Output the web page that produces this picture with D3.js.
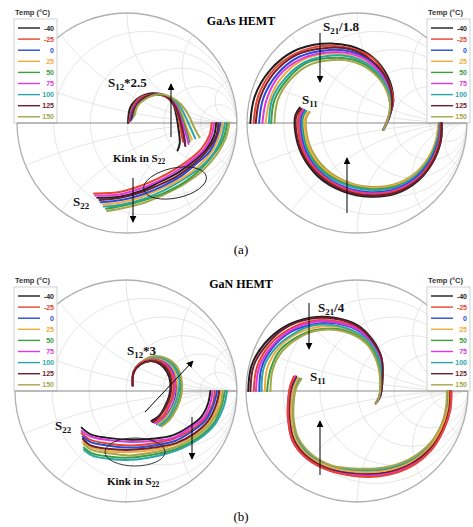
<!DOCTYPE html>
<html>
<head>
<meta charset="utf-8">
<script src="https://cdn.jsdelivr.net/npm/d3@7"></script>
<style>
  body { margin: 0; background: #fff; }
  svg { display: block; }
</style>
</head>
<body>
<svg id="chart" width="473" height="527"></svg>
<script>
// Temperatures (°C) and the colour used for each trace
const temps = ["-40", "-25", "0", "25", "50", "75", "100", "125", "150"];
const tempColors = ["#1e1e1e", "#e8432e", "#2a4ad6", "#f1ab3c", "#3c9d42", "#e036e0", "#2aa6a8", "#6d1e2f", "#a5a64a"];

// Reflection-plane traces [Re, Im], one array per temperature (same order as temps)
// GaAs HEMT, S22
const gaasS22 = [
  [[0.81,0],[0.79,-0.12],[0.72,-0.24],[0.60,-0.35],[0.45,-0.46],[0.29,-0.54],[0.12,-0.62],[-0.07,-0.67],[-0.27,-0.68]],
  [[0.77,0],[0.75,-0.11],[0.68,-0.23],[0.57,-0.33],[0.42,-0.43],[0.27,-0.51],[0.10,-0.58],[-0.08,-0.63],[-0.30,-0.64]],
  [[0.85,0],[0.82,-0.12],[0.75,-0.26],[0.63,-0.37],[0.48,-0.49],[0.31,-0.58],[0.14,-0.65],[-0.05,-0.70],[-0.24,-0.72]],
  [[0.87,0],[0.84,-0.12],[0.77,-0.26],[0.65,-0.39],[0.49,-0.51],[0.33,-0.59],[0.14,-0.67],[-0.04,-0.72],[-0.22,-0.74]],
  [[0.91,0],[0.88,-0.13],[0.80,-0.27],[0.68,-0.41],[0.52,-0.54],[0.35,-0.63],[0.16,-0.70],[-0.03,-0.75],[-0.19,-0.78]],
  [[0.79,0],[0.77,-0.11],[0.70,-0.24],[0.59,-0.34],[0.43,-0.45],[0.28,-0.53],[0.11,-0.60],[-0.07,-0.65],[-0.29,-0.66]],
  [[0.89,0],[0.86,-0.13],[0.79,-0.27],[0.67,-0.40],[0.50,-0.52],[0.34,-0.61],[0.15,-0.69],[-0.04,-0.74],[-0.21,-0.76]],
  [[0.83,0],[0.81,-0.12],[0.73,-0.25],[0.62,-0.36],[0.46,-0.48],[0.30,-0.56],[0.13,-0.63],[-0.06,-0.68],[-0.25,-0.70]],
  [[0.93,0],[0.90,-0.13],[0.82,-0.28],[0.70,-0.42],[0.53,-0.55],[0.36,-0.64],[0.17,-0.72],[-0.02,-0.77],[-0.18,-0.80]]
];

// GaAs HEMT, S12 x 2.5
const gaasS12 = [
  [[0.01,0],[0.03,0.14],[0.11,0.23],[0.23,0.27],[0.34,0.25],[0.42,0.17],[0.45,0.06],[0.47,-0.07],[0.48,-0.18],[0.46,-0.25]],
  [[0.02,0.01],[0.05,0.14],[0.12,0.23],[0.24,0.26],[0.35,0.24],[0.43,0.16],[0.47,0.05],[0.49,-0.07],[0.51,-0.17]],
  [[0.03,0.02],[0.06,0.14],[0.13,0.22],[0.25,0.26],[0.36,0.24],[0.44,0.16],[0.48,0.05],[0.51,-0.07],[0.53,-0.18]],
  [[0.05,0.05],[0.08,0.15],[0.15,0.22],[0.26,0.26],[0.37,0.24],[0.46,0.16],[0.51,0.05],[0.55,-0.06],[0.59,-0.15]],
  [[0.05,0.05],[0.08,0.15],[0.15,0.22],[0.26,0.26],[0.37,0.24],[0.45,0.16],[0.50,0.05],[0.54,-0.07],[0.57,-0.17]],
  [[0.04,0.04],[0.07,0.15],[0.14,0.22],[0.25,0.26],[0.36,0.24],[0.45,0.15],[0.49,0.04],[0.53,-0.08],[0.56,-0.19]],
  [[0.06,0.06],[0.09,0.16],[0.16,0.22],[0.27,0.26],[0.38,0.24],[0.47,0.17],[0.53,0.06],[0.58,-0.05],[0.62,-0.14]],
  [[0.04,0.03],[0.07,0.14],[0.14,0.22],[0.25,0.26],[0.36,0.24],[0.44,0.15],[0.48,0.04],[0.51,-0.09],[0.53,-0.21]],
  [[0.07,0.07],[0.10,0.16],[0.17,0.22],[0.28,0.26],[0.39,0.24],[0.49,0.17],[0.56,0.07],[0.61,-0.04],[0.66,-0.13]]
];

// GaAs HEMT, S21 / 1.8
const gaasS21 = [
  [[-0.97,0],[-0.93,0.24],[-0.79,0.48],[-0.58,0.65],[-0.32,0.72],[-0.06,0.70],[0.14,0.60],[0.28,0.42],[0.33,0.21],[0.29,0.05],[0.24,-0.06]],
  [[-0.94,0],[-0.90,0.24],[-0.77,0.47],[-0.56,0.63],[-0.31,0.70],[-0.06,0.68],[0.14,0.59],[0.27,0.41],[0.33,0.21],[0.29,0.05],[0.24,-0.06]],
  [[-0.89,0],[-0.85,0.23],[-0.72,0.45],[-0.53,0.60],[-0.29,0.66],[-0.06,0.65],[0.13,0.56],[0.26,0.39],[0.32,0.20],[0.29,0.04],[0.24,-0.06]],
  [[-0.83,0],[-0.79,0.22],[-0.68,0.42],[-0.50,0.57],[-0.28,0.63],[-0.05,0.61],[0.13,0.52],[0.25,0.38],[0.31,0.19],[0.28,0.04],[0.24,-0.06]],
  [[-0.78,0],[-0.75,0.21],[-0.63,0.40],[-0.47,0.54],[-0.26,0.59],[-0.05,0.58],[0.12,0.50],[0.24,0.36],[0.30,0.18],[0.28,0.03],[0.24,-0.06]],
  [[-0.86,0],[-0.82,0.22],[-0.70,0.44],[-0.51,0.58],[-0.28,0.64],[-0.05,0.63],[0.13,0.54],[0.26,0.38],[0.32,0.20],[0.28,0.04],[0.24,-0.06]],
  [[-0.80,0],[-0.77,0.22],[-0.65,0.41],[-0.48,0.55],[-0.27,0.61],[-0.05,0.60],[0.13,0.51],[0.25,0.37],[0.31,0.19],[0.28,0.03],[0.24,-0.06]],
  [[-0.92,0],[-0.88,0.23],[-0.75,0.46],[-0.55,0.62],[-0.30,0.68],[-0.06,0.67],[0.13,0.57],[0.27,0.40],[0.32,0.20],[0.29,0.05],[0.24,-0.06]],
  [[-0.75,0],[-0.72,0.21],[-0.61,0.39],[-0.45,0.52],[-0.25,0.57],[-0.05,0.56],[0.12,0.48],[0.24,0.35],[0.30,0.18],[0.28,0.03],[0.24,-0.06]]
];

// GaAs HEMT, S11
const gaasS11 = [
  [[0.77,0],[0.76,-0.17],[0.68,-0.37],[0.55,-0.53],[0.36,-0.64],[0.12,-0.67],[-0.13,-0.62],[-0.35,-0.49],[-0.50,-0.29],[-0.56,-0.09],[-0.56,0.07],[-0.52,0.14]],
  [[0.76,0],[0.75,-0.16],[0.67,-0.36],[0.54,-0.52],[0.35,-0.62],[0.12,-0.65],[-0.12,-0.60],[-0.33,-0.47],[-0.48,-0.28],[-0.53,-0.09],[-0.53,0.07],[-0.50,0.13]],
  [[0.76,0],[0.74,-0.16],[0.66,-0.35],[0.53,-0.50],[0.35,-0.60],[0.12,-0.63],[-0.12,-0.58],[-0.32,-0.46],[-0.46,-0.27],[-0.51,-0.09],[-0.51,0.06],[-0.48,0.12]],
  [[0.74,0],[0.72,-0.15],[0.64,-0.34],[0.51,-0.48],[0.33,-0.57],[0.11,-0.59],[-0.10,-0.54],[-0.29,-0.43],[-0.42,-0.26],[-0.47,-0.08],[-0.47,0.05],[-0.44,0.10]],
  [[0.75,0],[0.73,-0.15],[0.65,-0.34],[0.52,-0.49],[0.34,-0.58],[0.11,-0.60],[-0.11,-0.55],[-0.30,-0.44],[-0.44,-0.26],[-0.49,-0.08],[-0.49,0.06],[-0.46,0.11]],
  [[0.76,0],[0.75,-0.16],[0.67,-0.36],[0.54,-0.51],[0.35,-0.61],[0.12,-0.64],[-0.12,-0.59],[-0.32,-0.47],[-0.47,-0.28],[-0.52,-0.09],[-0.52,0.06],[-0.49,0.12]],
  [[0.75,0],[0.73,-0.16],[0.65,-0.35],[0.52,-0.49],[0.34,-0.59],[0.11,-0.61],[-0.11,-0.56],[-0.31,-0.45],[-0.45,-0.27],[-0.50,-0.08],[-0.50,0.06],[-0.47,0.11]],
  [[0.77,0],[0.76,-0.17],[0.68,-0.37],[0.55,-0.52],[0.36,-0.63],[0.12,-0.66],[-0.13,-0.61],[-0.34,-0.48],[-0.49,-0.29],[-0.55,-0.09],[-0.55,0.07],[-0.51,0.13]],
  [[0.74,0],[0.72,-0.15],[0.64,-0.33],[0.51,-0.47],[0.33,-0.56],[0.11,-0.58],[-0.10,-0.53],[-0.28,-0.42],[-0.41,-0.25],[-0.46,-0.08],[-0.46,0.05],[-0.43,0.10]]
];

// GaN HEMT, S22
const ganS22 = [
  [[0.76,0],[0.74,-0.11],[0.68,-0.23],[0.57,-0.32],[0.42,-0.40],[0.24,-0.43],[0.04,-0.44],[-0.18,-0.42],[-0.32,-0.39],[-0.40,-0.33]],
  [[0.80,0],[0.78,-0.12],[0.71,-0.25],[0.59,-0.35],[0.43,-0.43],[0.25,-0.47],[0.04,-0.49],[-0.18,-0.47],[-0.32,-0.44],[-0.40,-0.38]],
  [[0.82,0],[0.79,-0.12],[0.72,-0.26],[0.60,-0.36],[0.44,-0.45],[0.25,-0.49],[0.04,-0.51],[-0.17,-0.49],[-0.32,-0.46],[-0.39,-0.41]],
  [[0.85,0],[0.83,-0.13],[0.76,-0.27],[0.63,-0.39],[0.45,-0.48],[0.25,-0.53],[0.04,-0.55],[-0.17,-0.54],[-0.31,-0.51],[-0.39,-0.46]],
  [[0.89,0],[0.86,-0.14],[0.79,-0.29],[0.65,-0.42],[0.46,-0.52],[0.26,-0.57],[0.04,-0.60],[-0.16,-0.59],[-0.31,-0.56],[-0.38,-0.51]],
  [[0.78,0],[0.76,-0.11],[0.70,-0.24],[0.58,-0.33],[0.43,-0.42],[0.24,-0.45],[0.04,-0.46],[-0.18,-0.44],[-0.32,-0.41],[-0.40,-0.36]],
  [[0.91,0],[0.88,-0.14],[0.80,-0.30],[0.66,-0.43],[0.47,-0.53],[0.26,-0.59],[0.04,-0.62],[-0.16,-0.61],[-0.31,-0.58],[-0.38,-0.53]],
  [[0.84,0],[0.81,-0.13],[0.74,-0.27],[0.62,-0.38],[0.45,-0.47],[0.25,-0.51],[0.04,-0.53],[-0.17,-0.52],[-0.32,-0.49],[-0.39,-0.43]],
  [[0.87,0],[0.85,-0.13],[0.77,-0.28],[0.64,-0.40],[0.46,-0.50],[0.26,-0.55],[0.04,-0.58],[-0.16,-0.56],[-0.31,-0.53],[-0.38,-0.48]]
];

// GaN HEMT, S12 x 3
const ganS12 = [
  [[0.06,0.05],[0.07,0.17],[0.13,0.24],[0.22,0.27],[0.31,0.24],[0.37,0.17],[0.40,0.07],[0.39,-0.04],[0.35,-0.14],[0.30,-0.22],[0.23,-0.27]],
  [[0.06,0.05],[0.07,0.17],[0.13,0.25],[0.22,0.28],[0.32,0.26],[0.39,0.19],[0.43,0.08],[0.42,-0.04],[0.38,-0.14],[0.33,-0.23],[0.25,-0.28]],
  [[0.06,0.05],[0.07,0.17],[0.13,0.25],[0.23,0.29],[0.33,0.27],[0.41,0.20],[0.45,0.09],[0.45,-0.04],[0.41,-0.15],[0.35,-0.24],[0.28,-0.30]],
  [[0.06,0.05],[0.07,0.18],[0.14,0.25],[0.23,0.29],[0.34,0.28],[0.42,0.21],[0.46,0.10],[0.46,-0.04],[0.42,-0.15],[0.36,-0.24],[0.29,-0.30]],
  [[0.06,0.05],[0.07,0.18],[0.14,0.26],[0.23,0.30],[0.35,0.29],[0.44,0.22],[0.49,0.11],[0.49,-0.03],[0.45,-0.15],[0.39,-0.25],[0.31,-0.31]],
  [[0.06,0.05],[0.07,0.17],[0.13,0.25],[0.22,0.28],[0.33,0.26],[0.40,0.19],[0.44,0.09],[0.43,-0.04],[0.39,-0.14],[0.34,-0.23],[0.26,-0.29]],
  [[0.06,0.05],[0.07,0.18],[0.14,0.26],[0.23,0.30],[0.34,0.29],[0.43,0.22],[0.48,0.10],[0.47,-0.03],[0.43,-0.15],[0.38,-0.24],[0.30,-0.31]],
  [[0.06,0.05],[0.07,0.17],[0.13,0.24],[0.22,0.27],[0.31,0.25],[0.38,0.18],[0.41,0.08],[0.40,-0.04],[0.36,-0.14],[0.31,-0.22],[0.24,-0.28]],
  [[0.06,0.05],[0.07,0.18],[0.14,0.26],[0.23,0.31],[0.35,0.30],[0.45,0.23],[0.50,0.11],[0.50,-0.03],[0.46,-0.15],[0.40,-0.25],[0.32,-0.32]]
];

// GaN HEMT, S21 / 4
const ganS21 = [
  [[-0.98,0],[-0.95,0.23],[-0.83,0.43],[-0.65,0.58],[-0.42,0.66],[-0.20,0.66],[0.01,0.59],[0.14,0.46],[0.22,0.30],[0.23,0.12],[0.21,-0.04],[0.17,-0.11]],
  [[-0.93,0],[-0.90,0.22],[-0.79,0.41],[-0.62,0.55],[-0.41,0.63],[-0.20,0.63],[0.00,0.57],[0.13,0.45],[0.21,0.29],[0.22,0.11],[0.21,-0.04],[0.17,-0.11]],
  [[-0.88,0],[-0.86,0.21],[-0.76,0.39],[-0.60,0.53],[-0.40,0.60],[-0.20,0.61],[0.00,0.55],[0.12,0.44],[0.20,0.28],[0.22,0.11],[0.21,-0.05],[0.17,-0.11]],
  [[-0.83,0],[-0.81,0.20],[-0.72,0.37],[-0.57,0.50],[-0.39,0.57],[-0.19,0.58],[-0.01,0.52],[0.11,0.42],[0.19,0.27],[0.22,0.10],[0.20,-0.05],[0.17,-0.11]],
  [[-0.81,0],[-0.78,0.19],[-0.70,0.36],[-0.55,0.48],[-0.38,0.55],[-0.19,0.56],[-0.02,0.51],[0.11,0.41],[0.19,0.26],[0.21,0.10],[0.20,-0.05],[0.17,-0.11]],
  [[-0.91,0],[-0.88,0.22],[-0.77,0.40],[-0.61,0.54],[-0.40,0.62],[-0.20,0.62],[0.00,0.56],[0.13,0.44],[0.21,0.29],[0.22,0.11],[0.21,-0.04],[0.17,-0.11]],
  [[-0.86,0],[-0.84,0.21],[-0.74,0.38],[-0.58,0.51],[-0.40,0.59],[-0.19,0.59],[-0.01,0.53],[0.12,0.43],[0.20,0.28],[0.22,0.11],[0.20,-0.05],[0.17,-0.11]],
  [[-0.96,0],[-0.93,0.23],[-0.81,0.42],[-0.64,0.57],[-0.42,0.65],[-0.20,0.65],[0.01,0.58],[0.14,0.45],[0.22,0.30],[0.23,0.12],[0.21,-0.04],[0.17,-0.11]],
  [[-0.78,0],[-0.76,0.19],[-0.68,0.35],[-0.54,0.47],[-0.38,0.54],[-0.19,0.55],[-0.02,0.50],[0.10,0.41],[0.18,0.26],[0.21,0.10],[0.20,-0.05],[0.17,-0.11]]
];

// GaN HEMT, S11
const ganS11 = [
  [[0.84,0],[0.83,-0.17],[0.77,-0.35],[0.66,-0.52],[0.48,-0.66],[0.25,-0.73],[0.01,-0.75],[-0.24,-0.71],[-0.44,-0.60],[-0.57,-0.44],[-0.61,-0.26],[-0.61,-0.08],[-0.59,0.04],[-0.55,0.13]],
  [[0.85,0],[0.84,-0.17],[0.78,-0.35],[0.67,-0.53],[0.49,-0.68],[0.26,-0.76],[0.01,-0.77],[-0.24,-0.72],[-0.45,-0.61],[-0.58,-0.45],[-0.62,-0.26],[-0.62,-0.08],[-0.60,0.05],[-0.57,0.13]],
  [[0.83,0],[0.82,-0.16],[0.77,-0.34],[0.65,-0.51],[0.48,-0.65],[0.25,-0.72],[0.01,-0.74],[-0.23,-0.70],[-0.43,-0.59],[-0.56,-0.44],[-0.60,-0.26],[-0.60,-0.09],[-0.58,0.04],[-0.54,0.12]],
  [[0.83,0],[0.82,-0.16],[0.76,-0.34],[0.65,-0.51],[0.47,-0.65],[0.25,-0.72],[0.01,-0.73],[-0.23,-0.69],[-0.43,-0.59],[-0.55,-0.44],[-0.59,-0.26],[-0.59,-0.09],[-0.57,0.03],[-0.53,0.12]],
  [[0.82,0],[0.81,-0.16],[0.76,-0.34],[0.64,-0.51],[0.47,-0.64],[0.24,-0.71],[0.01,-0.72],[-0.23,-0.68],[-0.42,-0.58],[-0.54,-0.43],[-0.58,-0.26],[-0.58,-0.10],[-0.56,0.03],[-0.52,0.11]],
  [[0.85,0],[0.84,-0.17],[0.78,-0.35],[0.67,-0.53],[0.49,-0.67],[0.26,-0.75],[0.01,-0.76],[-0.24,-0.72],[-0.45,-0.61],[-0.58,-0.45],[-0.62,-0.26],[-0.62,-0.08],[-0.60,0.05],[-0.56,0.13]],
  [[0.82,0],[0.81,-0.16],[0.75,-0.33],[0.64,-0.50],[0.46,-0.63],[0.24,-0.70],[0.01,-0.71],[-0.23,-0.68],[-0.42,-0.58],[-0.54,-0.43],[-0.58,-0.26],[-0.58,-0.10],[-0.56,0.02],[-0.51,0.11]],
  [[0.84,0],[0.83,-0.17],[0.77,-0.35],[0.66,-0.52],[0.48,-0.66],[0.25,-0.74],[0.01,-0.75],[-0.24,-0.71],[-0.44,-0.60],[-0.57,-0.44],[-0.61,-0.26],[-0.61,-0.08],[-0.59,0.04],[-0.55,0.13]],
  [[0.81,0],[0.80,-0.16],[0.75,-0.33],[0.63,-0.50],[0.46,-0.62],[0.24,-0.69],[0.01,-0.70],[-0.23,-0.67],[-0.41,-0.57],[-0.53,-0.42],[-0.57,-0.26],[-0.57,-0.10],[-0.55,0.02],[-0.50,0.11]]
];

// Panel headings and captions
const deviceTitles = ["GaAs HEMT", "GaN HEMT"];
const captions = ["(a)", "(b)"];
const legendTitle = "Temp (°C)";

const svg = d3.select("#chart");
const serif = "'Liberation Serif', 'DejaVu Serif', serif";
const sans = "'Liberation Sans', Arial, sans-serif";

const defs = svg.append("defs");
defs.append("marker")
  .attr("id", "head")
  .attr("viewBox", "0 0 10 10")
  .attr("refX", 9).attr("refY", 5)
  .attr("markerWidth", 7).attr("markerHeight", 7)
  .attr("markerUnits", "userSpaceOnUse")
  .attr("orient", "auto")
  .append("path").attr("d", "M0,0 L10,5 L0,10 Z").attr("fill", "#000");

// Layout of the four Smith charts; `order` is the stacking order of the temperature traces
const tempOrder = [0, 1, 2, 3, 4, 5, 6, 7, 8];
const panels = [
  { id: "p0", cx: 127, cy: 123, R: 110, traces: [gaasS22, gaasS12],
    order: [[8, 4, 6, 3, 2, 0, 7, 5, 1], tempOrder], legend: { x: 14, y: 19 } },
  { id: "p1", cx: 357, cy: 123, R: 110, traces: [gaasS21, gaasS11],
    order: [tempOrder, [8, 3, 4, 6, 2, 5, 1, 0, 7]], legend: { x: 427, y: 19 } },
  { id: "p2", cx: 126, cy: 391, R: 111, traces: [ganS22, ganS12],
    order: [tempOrder, [0, 2, 3, 4, 6, 8, 5, 1, 7]], legend: { x: 14, y: 287 } },
  { id: "p3", cx: 357, cy: 391, R: 111, traces: [ganS21, ganS11],
    order: [tempOrder, [4, 6, 8, 0, 2, 3, 7, 5, 1]], legend: { x: 427, y: 287 } }
];

const rCircles = [0.2, 0.5, 1, 2, 5];
const xArcs = [0.2, 0.5, 1, 2, 5];

panels.forEach(p => {
  const sx = d3.scaleLinear().domain([-1, 1]).range([p.cx - p.R, p.cx + p.R]);
  const sy = d3.scaleLinear().domain([-1, 1]).range([p.cy + p.R, p.cy - p.R]);
  const k = p.R; // pixels per unit of |Γ|

  defs.append("clipPath").attr("id", "clip-" + p.id)
    .append("circle").attr("cx", sx(0)).attr("cy", sy(0)).attr("r", k);

  const g = svg.append("g");
  const grid = g.append("g").attr("clip-path", `url(#clip-${p.id})`)
    .attr("fill", "none").attr("stroke", "#e0e0e0").attr("stroke-width", 0.8);

  // constant-resistance circles
  rCircles.forEach(r => {
    grid.append("circle")
      .attr("cx", sx(r / (1 + r))).attr("cy", sy(0)).attr("r", k / (1 + r));
  });
  // constant-reactance arcs
  xArcs.forEach(x => {
    [1, -1].forEach(s => {
      grid.append("circle")
        .attr("cx", sx(1)).attr("cy", sy(s / x)).attr("r", k / x);
    });
  });

  // outer boundary |Γ| = 1
  g.append("circle").attr("cx", sx(0)).attr("cy", sy(0)).attr("r", k)
    .attr("fill", "none").attr("stroke", "#b0b0b0").attr("stroke-width", 1.3);

  // legend box (covers the grid beneath it)
  const L = p.legend;
  const lg = g.append("g");
  lg.append("rect").attr("x", L.x).attr("y", L.y).attr("width", 43).attr("height", sy(0) - L.y)
    .attr("fill", "#fff").attr("stroke", "#bdbdbd").attr("stroke-width", 0.7);
  lg.append("text").attr("x", L.x + 1).attr("y", L.y - 4)
    .attr("font-family", sans).attr("font-size", 7.5).attr("font-weight", "bold").attr("fill", "#333")
    .text(legendTitle);
  temps.forEach((t, i) => {
    const yy = L.y + 9 + i * 11.1;
    lg.append("line").attr("x1", L.x + 4).attr("x2", L.x + 26).attr("y1", yy).attr("y2", yy)
      .attr("stroke", tempColors[i]).attr("stroke-width", 1.4);
    lg.append("text").attr("x", L.x + 40).attr("y", yy + 2.5).attr("text-anchor", "end")
      .attr("font-family", sans).attr("font-size", 7).attr("font-weight", "bold")
      .attr("fill", tempColors[i]).text(t);
  });

  // real axis
  g.append("line").attr("x1", sx(-1)).attr("x2", sx(1)).attr("y1", sy(0)).attr("y2", sy(0))
    .attr("stroke", "#8a8a8a").attr("stroke-width", 1.2);

  // S-parameter traces
  const line = d3.line().x(d => sx(d[0])).y(d => sy(d[1])).curve(d3.curveCatmullRom.alpha(0.5));
  p.traces.forEach((set, si) => {
    p.order[si].forEach(i => {
      g.append("path").attr("d", line(set[i])).attr("fill", "none")
        .attr("stroke", tempColors[i]).attr("stroke-width", 2).attr("stroke-linecap", "round");
    });
  });
});

// annotations ----------------------------------------------------------
function sLabel(x, y, pre, sub, post, size) {
  const t = svg.append("text").attr("x", x).attr("y", y)
    .attr("font-family", serif).attr("font-weight", "bold").attr("font-size", size).attr("fill", "#111");
  t.append("tspan").text(pre);
  t.append("tspan").attr("font-size", size * 0.68).attr("dy", size * 0.2).text(sub);
  if (post) t.append("tspan").attr("dy", -size * 0.2).text(post);
}
function arrow(x1, y1, x2, y2) {
  svg.append("line").attr("x1", x1).attr("y1", y1).attr("x2", x2).attr("y2", y2)
    .attr("stroke", "#000").attr("stroke-width", 1).attr("marker-end", "url(#head)");
}
function ellipse(cx, cy, rx, ry, rot) {
  svg.append("ellipse").attr("cx", cx).attr("cy", cy).attr("rx", rx).attr("ry", ry)
    .attr("transform", `rotate(${rot},${cx},${cy})`)
    .attr("fill", "none").attr("stroke", "#222").attr("stroke-width", 0.9);
}

// device headings and captions
svg.append("text").attr("x", 241).attr("y", 25).attr("text-anchor", "middle")
  .attr("font-family", serif).attr("font-weight", "bold").attr("font-size", 12).text(deviceTitles[0]);
svg.append("text").attr("x", 241).attr("y", 288).attr("text-anchor", "middle")
  .attr("font-family", serif).attr("font-weight", "bold").attr("font-size", 12).text(deviceTitles[1]);
svg.append("text").attr("x", 241).attr("y", 254).attr("text-anchor", "middle")
  .attr("font-family", serif).attr("font-size", 13).text(captions[0]);
svg.append("text").attr("x", 241).attr("y", 521).attr("text-anchor", "middle")
  .attr("font-family", serif).attr("font-size", 13).text(captions[1]);

// (a) GaAs
sLabel(108, 87, "S", "12", "*2.5", 13);
arrow(171, 137, 171, 84);
sLabel(113, 162, "Kink in S", "22", "", 11);
ellipse(175, 183, 32, 15, -12);
sLabel(73, 206, "S", "22", "", 13);
arrow(133, 178, 133, 222);

sLabel(323, 31, "S", "21", "/1.8", 13);
arrow(320, 33, 320, 82);
sLabel(302, 104, "S", "11", "", 13);
arrow(347, 213, 347, 158);

// (b) GaN
sLabel(127, 355, "S", "12", "*3", 13);
arrow(145, 412, 193, 361);
sLabel(55, 430, "S", "22", "", 13);
arrow(192, 417, 192, 459);
ellipse(135, 452, 30, 14, 0);
sLabel(107, 485, "Kink in S", "22", "", 11);

sLabel(318, 312, "S", "21", "/4", 13);
arrow(309, 303, 309, 349);
sLabel(310, 381, "S", "11", "", 13);
arrow(320, 475, 320, 421);
</script>
</body>
</html>
